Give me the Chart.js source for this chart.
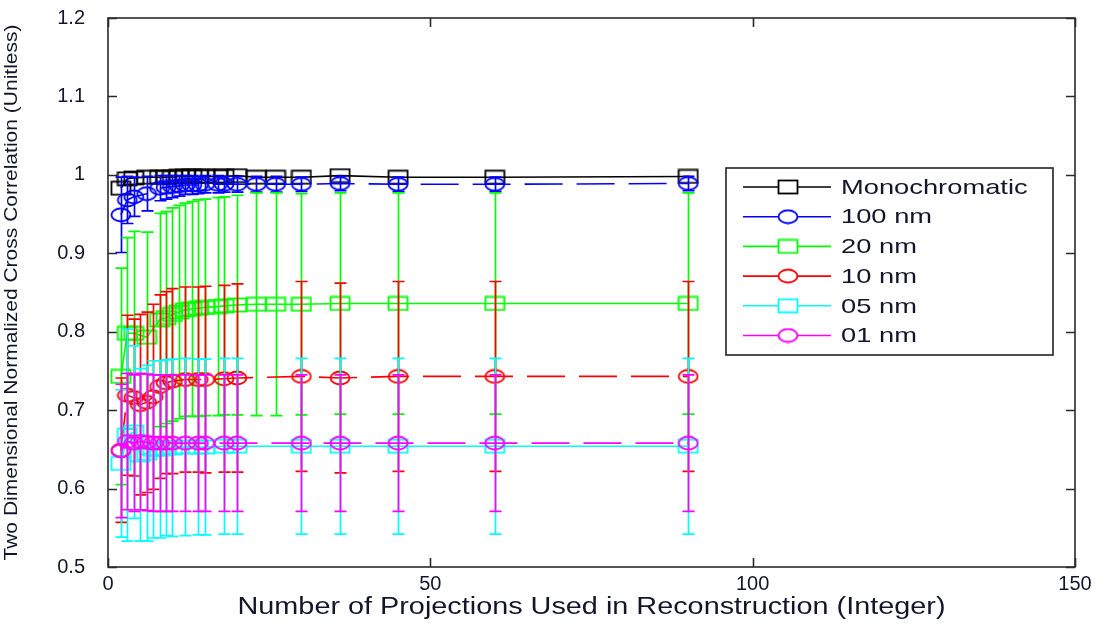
<!DOCTYPE html>
<html lang="en">
<head>
    <meta charset="UTF-8">
    <title>Cross correlation vs number of projections</title>
    <script src="https://cdn.jsdelivr.net/npm/chart.js"></script>
    <style>
        body {
            margin: 0;
            background-color: #fff;
        }
    </style>
</head>
<body>
    <canvas id="grafico" width="1107" height="628"></canvas>

    <script>
        // etichette e dati
        const seriesLabels = ['Monochromatic', '100 nm', '20 nm', '10 nm', '05 nm', '01 nm'];
        const seriesColors = ['#000000', '#0000ff', '#00ff00', '#ff0000', '#00ffff', '#ff00ff'];
        const seriesMarkers = ['square', 'circle', 'square', 'circle', 'square', 'circle'];
        const seriesDashed = [false, true, false, true, false, true];

        // numero di proiezioni (asse x)
        const xBroad = [2, 3, 4, 6, 8, 9, 10, 11, 12, 13, 14, 15, 17, 18, 20, 23, 26, 30, 36, 45, 60, 90];
        const xNarrow = [2, 3, 4, 5, 6, 7, 8, 9, 10, 12, 14, 15, 18, 20, 30, 36, 45, 60, 90];

        const mono = [0.983, 0.995, 0.996, 0.997, 0.997, 0.997, 0.997, 0.998, 0.998, 0.998, 0.998, 0.998, 0.998, 0.998, 0.999, 0.997, 0.997, 0.997, 0.999, 0.997, 0.997, 0.998];
        const monoErr = [0, 0, 0, 0, 0, 0, 0, 0, 0, 0, 0, 0, 0, 0, 0, 0, 0, 0, 0, 0, 0, 0];

        const nm100 = [0.949, 0.968, 0.972, 0.976, 0.983, 0.984, 0.985, 0.986, 0.987, 0.987, 0.987, 0.988, 0.988, 0.988, 0.988, 0.988, 0.988, 0.988, 0.989, 0.988, 0.988, 0.989];
        const nm100Err = [0.048, 0.030, 0.025, 0.022, 0.016, 0.015, 0.014, 0.013, 0.012, 0.012, 0.011, 0.011, 0.011, 0.010, 0.010, 0.010, 0.010, 0.009, 0.009, 0.009, 0.009, 0.009];

        const nm20 = [0.743, 0.798, 0.798, 0.793, 0.815, 0.818, 0.822, 0.825, 0.828, 0.829, 0.830, 0.831, 0.832, 0.833, 0.834, 0.835, 0.835, 0.835, 0.836, 0.836, 0.836, 0.836];
        const nm20Err = [0.138, 0.122, 0.130, 0.134, 0.136, 0.135, 0.136, 0.136, 0.136, 0.137, 0.138, 0.138, 0.139, 0.139, 0.140, 0.142, 0.142, 0.141, 0.141, 0.141, 0.141, 0.141];

        const nm10 = [0.649, 0.719, 0.716, 0.707, 0.710, 0.717, 0.730, 0.735, 0.737, 0.739, 0.739, 0.739, 0.740, 0.741, 0.743, 0.741, 0.743, 0.743, 0.743];
        const nm10Err = [0.092, 0.102, 0.100, 0.115, 0.115, 0.118, 0.117, 0.116, 0.118, 0.118, 0.118, 0.119, 0.119, 0.120, 0.121, 0.121, 0.121, 0.121, 0.121];

        const nm05 = [0.632, 0.668, 0.672, 0.643, 0.645, 0.650, 0.650, 0.652, 0.652, 0.653, 0.653, 0.653, 0.654, 0.654, 0.654, 0.654, 0.654, 0.654, 0.654];
        const nm05Err = [0.094, 0.135, 0.110, 0.110, 0.112, 0.113, 0.113, 0.112, 0.113, 0.113, 0.112, 0.112, 0.112, 0.112, 0.112, 0.112, 0.112, 0.112, 0.112];

        const nm01 = [0.648, 0.660, 0.658, 0.660, 0.659, 0.658, 0.658, 0.658, 0.658, 0.658, 0.658, 0.658, 0.658, 0.658, 0.658, 0.658, 0.658, 0.658, 0.658];
        const nm01Err = [0.085, 0.087, 0.087, 0.087, 0.087, 0.087, 0.087, 0.087, 0.087, 0.087, 0.087, 0.087, 0.087, 0.087, 0.087, 0.087, 0.087, 0.087, 0.087];

        const seriesX = [xBroad, xBroad, xBroad, xNarrow, xNarrow, xNarrow];
        const seriesY = [mono, nm100, nm20, nm10, nm05, nm01];
        const seriesErr = [monoErr, nm100Err, nm20Err, nm10Err, nm05Err, nm01Err];

        const xTitle = 'Number of Projections Used in Reconstruction (Integer)';
        const yTitle = 'Two Dimensional Normalized Cross Correlation (Unitless)';

        const FONT = 'Arial, "Liberation Sans", sans-serif';
        const TEXT = '#15152a';

        // marker leggermente allargato come nell'immagine
        function marker(shape, color) {
            const c = document.createElement('canvas');
            c.width = 22;
            c.height = 16;
            const g = c.getContext('2d');
            g.strokeStyle = color;
            g.lineWidth = 1.8;
            if (shape === 'square') {
                g.strokeRect(1.5, 1.5, 19, 13);
            } else {
                g.beginPath();
                g.ellipse(11, 8, 9.5, 6.5, 0, 0, Math.PI * 2);
                g.stroke();
            }
            return c;
        }

        const markerImgs = seriesLabels.map((l, i) => marker(seriesMarkers[i], seriesColors[i]));

        const datasets = seriesLabels.map((label, i) => ({
            label: label,
            data: seriesX[i].map((x, k) => ({ x: x, y: seriesY[i][k] })),
            borderColor: seriesColors[i],
            backgroundColor: seriesColors[i],
            borderWidth: 1.6,
            borderDash: seriesDashed[i] ? [38, 14] : [],
            pointStyle: markerImgs[i],
            pointRadius: 8,
            tension: 0,
            fill: false,
            order: seriesLabels.length - i
        }));

        // barre di errore: disegnate subito prima di ogni serie
        const errorBars = {
            id: 'errorBars',
            beforeDatasetDraw(chart, args) {
                const i = args.index;
                const err = seriesErr[i];
                const xs = chart.scales.x, ys = chart.scales.y;
                const ctx = chart.ctx;
                ctx.save();
                ctx.strokeStyle = seriesColors[i];
                ctx.lineWidth = 1.7;
                ctx.setLineDash([]);
                seriesX[i].forEach((x, k) => {
                    if (!err[k]) return;
                    const px = Math.round(xs.getPixelForValue(x)) + 0.5;
                    const top = ys.getPixelForValue(seriesY[i][k] + err[k]);
                    const bot = ys.getPixelForValue(seriesY[i][k] - err[k]);
                    ctx.beginPath();
                    ctx.moveTo(px, top); ctx.lineTo(px, bot);
                    ctx.moveTo(px - 6, top); ctx.lineTo(px + 6, top);
                    ctx.moveTo(px - 6, bot); ctx.lineTo(px + 6, bot);
                    ctx.stroke();
                });
                ctx.restore();
            }
        };

        // riquadro degli assi con tacche interne (stile MATLAB) ed etichette y
        const axesBox = {
            id: 'axesBox',
            beforeDatasetsDraw(chart) {
                const a = chart.chartArea;
                const ys = chart.scales.y, xs = chart.scales.x;
                const ctx = chart.ctx;
                ctx.save();
                ctx.strokeStyle = '#2a2a2a';
                ctx.lineWidth = 1.6;
                ctx.strokeRect(a.left, a.top, a.right - a.left, a.bottom - a.top);
                ctx.beginPath();
                ys.ticks.forEach(t => {
                    const py = Math.round(ys.getPixelForValue(t.value)) + 0.5;
                    ctx.moveTo(a.left, py); ctx.lineTo(a.left + 9, py);
                    ctx.moveTo(a.right, py); ctx.lineTo(a.right - 9, py);
                });
                xs.ticks.forEach(t => {
                    const px = Math.round(xs.getPixelForValue(t.value)) + 0.5;
                    ctx.moveTo(px, a.bottom); ctx.lineTo(px, a.bottom - 9);
                    ctx.moveTo(px, a.top); ctx.lineTo(px, a.top + 9);
                });
                ctx.stroke();

                ctx.font = '20px ' + FONT;
                ctx.fillStyle = TEXT;
                ctx.textAlign = 'right';
                ctx.textBaseline = 'middle';
                ys.ticks.forEach(t => {
                    ctx.fillText(String(+t.value.toFixed(1)), a.left - 23, ys.getPixelForValue(t.value));
                });
                ctx.restore();
            }
        };

        // testo allungato per riprodurre la resa della figura originale
        function stretchedText(ctx, text, cx, cy, size, width, angle) {
            ctx.save();
            ctx.font = size + 'px ' + FONT;
            const w = ctx.measureText(text).width;
            ctx.translate(cx, cy);
            ctx.rotate(angle || 0);
            ctx.scale(width / w, 1);
            ctx.textAlign = 'center';
            ctx.textBaseline = 'middle';
            ctx.fillStyle = TEXT;
            ctx.fillText(text, 0, 0);
            ctx.restore();
        }

        const titlesAndLegend = {
            id: 'titlesAndLegend',
            afterDraw(chart) {
                const ctx = chart.ctx;
                const a = chart.chartArea;
                stretchedText(ctx, xTitle, (a.left + a.right) / 2, 608, 23, 708);
                stretchedText(ctx, yTitle, 12, (a.top + a.bottom) / 2, 18.5, 536, -Math.PI / 2);

                // legenda dentro l'area del grafico
                const lx = 726, ly = 168, lw = 327, lh = 187;
                ctx.save();
                ctx.fillStyle = '#fff';
                ctx.fillRect(lx, ly, lw, lh);
                ctx.strokeStyle = '#222';
                ctx.lineWidth = 1.6;
                ctx.strokeRect(lx, ly, lw, lh);
                seriesLabels.forEach((label, i) => {
                    const y = ly + 19 + i * 29.7;
                    ctx.strokeStyle = seriesColors[i];
                    ctx.lineWidth = 1.6;
                    ctx.beginPath();
                    ctx.moveTo(743, y); ctx.lineTo(831, y);
                    ctx.stroke();
                    const m = markerImgs[i];
                    ctx.fillStyle = '#fff';
                    ctx.fillRect(788 - 9, y - 6, 18, 12);
                    ctx.drawImage(m, 788 - m.width / 2, y - m.height / 2);
                    ctx.font = '21px ' + FONT;
                    ctx.fillStyle = TEXT;
                    ctx.textBaseline = 'middle';
                    ctx.save();
                    ctx.translate(841, y + 1);
                    ctx.scale(1.3, 1);
                    ctx.fillText(label, 0, 0);
                    ctx.restore();
                });
                ctx.restore();
            }
        };

        const ctx = document.getElementById('grafico').getContext('2d');
        const chart = new Chart(ctx, {
            type: 'line',
            data: { datasets: datasets },
            options: {
                responsive: false,
                animation: false,
                layout: { padding: { top: 18, right: 32, left: 0, bottom: 0 } },
                plugins: {
                    legend: { display: false },
                    tooltip: { enabled: false }
                },
                scales: {
                    x: {
                        type: 'linear',
                        min: 0,
                        max: 150,
                        ticks: { stepSize: 50, padding: 5, color: TEXT, font: { family: FONT, size: 20 } },
                        grid: { display: false, drawTicks: false },
                        border: { display: false },
                        afterFit(s) { s.height = 61; }
                    },
                    y: {
                        min: 0.5,
                        max: 1.2,
                        ticks: { stepSize: 0.1, display: false },
                        grid: { display: false, drawTicks: false },
                        border: { display: false },
                        afterFit(s) { s.width = 108; }
                    }
                }
            },
            plugins: [errorBars, axesBox, titlesAndLegend]
        });
    </script>
</body>
</html>
